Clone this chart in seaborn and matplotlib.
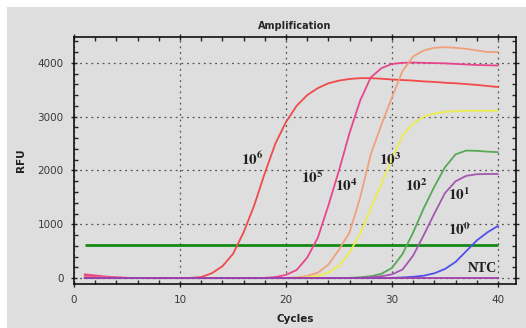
import matplotlib
matplotlib.use("Agg")
import matplotlib.pyplot as plt
import pandas as pd
import seaborn as sns
from matplotlib.patches import Rectangle
from matplotlib.ticker import MultipleLocator

cycles = list(range(1, 41))

rfu_1e6 = [40, 28, 17, 8, 3, 1, 0, 0, 0, 1,
           5, 20, 90, 220, 450, 850, 1350, 1950, 2500, 2900,
           3200, 3400, 3530, 3620, 3670, 3700, 3715, 3715, 3705, 3690,
           3680, 3670, 3655, 3645, 3630, 3620, 3605, 3590, 3570, 3550]
rfu_1e5 = [70, 50, 30, 15, 6, 2, 0, 0, 0, 0,
           0, 0, 0, 0, 0, 0, 0, 5, 20, 60,
           150, 380, 750, 1350, 2000, 2700, 3300, 3730, 3900, 3980,
           4000, 4005, 4000, 3995, 3990, 3980, 3970, 3960, 3955, 3950]
rfu_1e4 = [12, 10, 8, 6, 4, 2, 0, 0, 0, 0,
           0, 0, 0, 0, 0, 0, 0, 0, 0, 5,
           15, 40, 100, 250, 530, 850, 1500, 2300, 2850, 3360,
           3850, 4120, 4230, 4280, 4290, 4280, 4260, 4230, 4200, 4200]
rfu_1e3 = [0, 0, 0, 0, 0, 0, 0, 0, 0, 0,
           0, 0, 0, 0, 0, 0, 0, 0, 0, 0,
           5, 15, 40, 100, 230, 480, 820, 1300, 1750, 2220,
           2650, 2870, 3000, 3060, 3090, 3100, 3110, 3110, 3110, 3110]
rfu_1e2 = [0, 0, 0, 0, 0, 0, 0, 0, 0, 0,
           0, 0, 0, 0, 0, 0, 0, 0, 0, 0,
           0, 0, 0, 0, 0, 5, 15, 35, 80, 190,
           450, 850, 1300, 1700, 2060, 2300, 2370, 2365, 2350, 2340]
rfu_1e1 = [0, 0, 0, 0, 0, 0, 0, 0, 0, 0,
           0, 0, 0, 0, 0, 0, 0, 0, 0, 0,
           0, 0, 0, 0, 0, 0, 5, 15, 35, 70,
           160, 420, 800, 1200, 1580, 1800, 1900, 1930, 1935, 1935]
rfu_1e0 = [0, 0, 0, 0, 0, 0, 0, 0, 0, 0,
           0, 0, 0, 0, 0, 0, 0, 0, 0, 0,
           0, 0, 0, 0, 0, 0, 0, 0, 0, 5,
           12, 25, 45, 90, 170, 300, 500, 700, 850, 970]
rfu_ntc = [5, 5, 5, 5, 5, 5, 5, 5, 5, 5,
           5, 5, 5, 5, 5, 5, 5, 5, 5, 5,
           5, 5, 5, 5, 5, 5, 5, 5, 5, 5,
           5, 5, 5, 5, 5, 5, 5, 5, 5, 5]

series_names = ["1e6", "1e5", "1e4", "1e3", "1e2", "1e1", "1e0", "NTC"]
series_values = [rfu_1e6, rfu_1e5, rfu_1e4, rfu_1e3, rfu_1e2, rfu_1e1, rfu_1e0, rfu_ntc]
series_colors = ["#f04a4a", "#e8468c", "#f0a07c", "#ecec4a", "#58a858",
                 "#a458b0", "#5050ee", "#a040a8"]
threshold = 620

curve_labels = [r"$\mathbf{10^{6}}$", r"$\mathbf{10^{5}}$", r"$\mathbf{10^{4}}$",
                r"$\mathbf{10^{3}}$", r"$\mathbf{10^{2}}$", r"$\mathbf{10^{1}}$",
                r"$\mathbf{10^{0}}$", "NTC"]
label_cycle = [16.8, 22.5, 25.7, 29.8, 32.3, 36.35, 36.35, 38.5]
label_rfu = [2205, 1870, 1725, 2205, 1725, 1550, 900, 170]

sns.set_style("ticks")
plt.rcParams["font.family"] = ["DejaVu Sans"]
plt.rcParams["mathtext.fontset"] = "stix"

df = pd.concat(
    [pd.DataFrame({"Cycles": cycles, "RFU": vals, "Sample": name})
     for name, vals in zip(series_names, series_values)],
    ignore_index=True,
)

bg = "#dedede"
fig = plt.figure(figsize=(5.26, 3.28), dpi=100, facecolor="white")
fig.patches.append(Rectangle((7 / 526, 0), 1, (328 - 7) / 328, transform=fig.transFigure,
                             facecolor=bg, edgecolor="none", zorder=-5))
ax = fig.add_axes([74 / 526, 1 - 283.5 / 328, (516 - 74) / 526, (283.5 - 37) / 328])
ax.set_facecolor(bg)

ax.hlines(threshold, cycles[0], cycles[-1], color="#138a13", linewidth=2, zorder=1.5)
sns.lineplot(data=df, x="Cycles", y="RFU", hue="Sample", hue_order=series_names,
             palette=series_colors, linewidth=1.3, legend=False, ax=ax,
             estimator=None, sort=False)

for txt, cx, cy in zip(curve_labels, label_cycle, label_rfu):
    if txt == "NTC":
        ax.text(cx, cy, txt, ha="center", va="center", fontsize=10,
                family="Liberation Serif", fontweight="bold", color="#202020")
    else:
        ax.text(cx, cy, txt, ha="center", va="center", fontsize=11, color="#202020")

ax.set_xlim(0, 41.7)
ax.set_ylim(-100, 4480)
ax.xaxis.set_major_locator(MultipleLocator(10))
ax.xaxis.set_minor_locator(MultipleLocator(2))
ax.yaxis.set_major_locator(MultipleLocator(1000))
ax.yaxis.set_minor_locator(MultipleLocator(200))
ax.tick_params(which="major", direction="inout", length=5, width=1, top=True, right=True,
               labelsize=7.5, labelcolor="#3a3a3a", pad=5)
ax.tick_params(which="minor", direction="in", length=3, width=1, top=True, right=True)
ax.tick_params(axis="x", which="major", pad=6)
for side in ax.spines.values():
    side.set_color("#111111")
    side.set_linewidth(1.2)
ax.grid(True, which="major", linestyle=(0, (1.5, 3)), color="#555555", linewidth=0.9)
ax.set_axisbelow(True)

ax.set_title("Amplification", fontsize=7, fontweight="bold", pad=6)
ax.set_xlabel("Cycles", fontsize=7.5, fontweight="bold", labelpad=6, color="#202020")
ax.set_ylabel("RFU", fontsize=7.5, fontweight="bold", labelpad=8, color="#202020")

fig.savefig("out.png", dpi=100, facecolor=fig.get_facecolor())
